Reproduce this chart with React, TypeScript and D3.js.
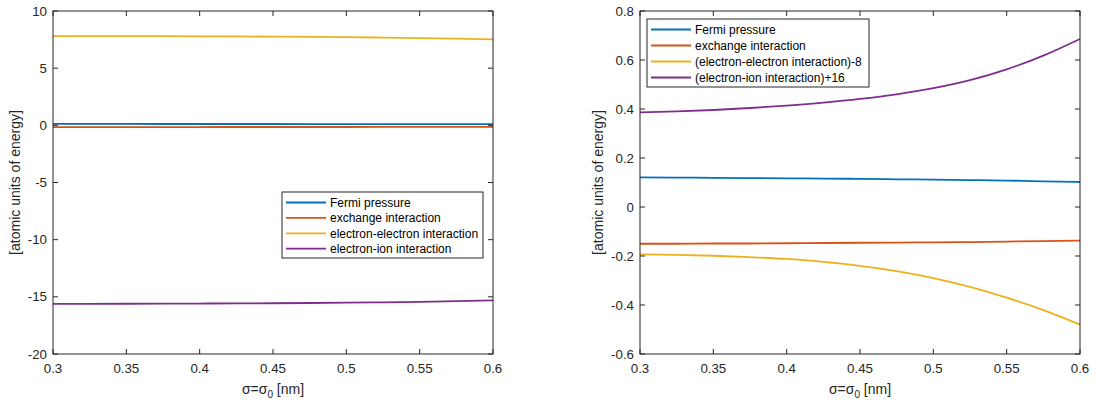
import React from "react";
import * as d3 from "d3";

const sigma = [0.3, 0.325, 0.35, 0.375, 0.4, 0.425, 0.45, 0.475, 0.5, 0.525, 0.55, 0.575, 0.6];
const fermi = [0.121, 0.120, 0.119, 0.118, 0.117, 0.116, 0.115, 0.113, 0.112, 0.110, 0.108, 0.105, 0.102];
const exchange = [-0.150, -0.150, -0.149, -0.149, -0.148, -0.147, -0.146, -0.145, -0.144, -0.143, -0.141, -0.139, -0.137];
const electronElectron = [7.807, 7.805, 7.801, 7.795, 7.788, 7.776, 7.760, 7.738, 7.710, 7.674, 7.630, 7.579, 7.520];
const electronIon = [-15.614, -15.610, -15.604, -15.596, -15.586, -15.574, -15.559, -15.540, -15.515, -15.482, -15.438, -15.382, -15.314];

const leftNames = ["Fermi pressure", "exchange interaction", "electron-electron interaction", "electron-ion interaction"];
const rightNames = ["Fermi pressure", "exchange interaction", "(electron-electron interaction)-8", "(electron-ion interaction)+16"];
const rightOffsets = [0, 0, -8, 16];
const colors = ["#0072BD", "#D95319", "#EDB120", "#7E2F8E"];

const xTicks = [0.3, 0.35, 0.4, 0.45, 0.5, 0.55, 0.6];
const leftYTicks = [10, 5, 0, -5, -10, -15, -20];
const rightYTicks = [0.8, 0.6, 0.4, 0.2, 0, -0.2, -0.4, -0.6];

const FONT = "'Liberation Sans', Arial, Helvetica, sans-serif";
const AX = "#262626";

type PanelProps = {
  x0: number; x1: number; y0: number; y1: number;
  yDomain: [number, number]; yTicks: number[];
  series: number[][]; names: string[];
  legend: { x: number; y: number; w: number; h: number; row: number };
  ylabelX: number;
};

function Panel(p: PanelProps) {
  const xs = d3.scaleLinear().domain([0.3, 0.6]).range([p.x0, p.x1]);
  const ys = d3.scaleLinear().domain(p.yDomain).range([p.y1, p.y0]);
  const line = d3.line<number>().x((_, i) => xs(sigma[i])).y((d) => ys(d)).curve(d3.curveMonotoneX);
  const tl = 5;
  const cx = (p.x0 + p.x1) / 2;
  const cy = (p.y0 + p.y1) / 2;
  return (
    <g>
      <rect x={p.x0} y={p.y0} width={p.x1 - p.x0} height={p.y1 - p.y0} fill="#fff" />
      {p.series.map((s, i) => (
        <path key={i} d={line(s) || ""} fill="none" stroke={colors[i]} strokeWidth={1.8} />
      ))}
      <rect x={p.x0} y={p.y0} width={p.x1 - p.x0} height={p.y1 - p.y0} fill="none" stroke={AX} strokeWidth={1} />
      {xTicks.map((t) => (
        <g key={"x" + t}>
          <line x1={xs(t)} x2={xs(t)} y1={p.y1} y2={p.y1 - tl} stroke={AX} />
          <line x1={xs(t)} x2={xs(t)} y1={p.y0} y2={p.y0 + tl} stroke={AX} />
          <text x={xs(t)} y={p.y1 + 19} textAnchor="middle" fontSize={13.3} fill={AX} fontFamily={FONT}>{String(t)}</text>
        </g>
      ))}
      {p.yTicks.map((t) => (
        <g key={"y" + t}>
          <line x1={p.x0} x2={p.x0 + tl} y1={ys(t)} y2={ys(t)} stroke={AX} />
          <line x1={p.x1} x2={p.x1 - tl} y1={ys(t)} y2={ys(t)} stroke={AX} />
          <text x={p.x0 - 6} y={ys(t)} dy="0.35em" textAnchor="end" fontSize={13.3} fill={AX} fontFamily={FONT}>{String(t)}</text>
        </g>
      ))}
      <text x={cx} y={p.y1 + 40} textAnchor="middle" fontSize={14} fill={AX} fontFamily={FONT}>
        σ=σ<tspan fontSize={10} dy={4}>0</tspan><tspan dy={-4}> [nm]</tspan>
      </text>
      <text transform={`translate(${p.ylabelX},${cy}) rotate(-90)`} textAnchor="middle" dy="0.35em" fontSize={14} fill={AX} fontFamily={FONT}>
        [atomic units of energy]
      </text>
      <g>
        <rect x={p.legend.x} y={p.legend.y} width={p.legend.w} height={p.legend.h} fill="#fff" stroke={AX} strokeWidth={1} />
        {p.names.map((n, i) => {
          const yy = p.legend.y + 10.5 + i * p.legend.row;
          return (
            <g key={n}>
              <line x1={p.legend.x + 4} x2={p.legend.x + 44} y1={yy} y2={yy} stroke={colors[i]} strokeWidth={1.8} />
              <text x={p.legend.x + 48} y={yy} dy="0.35em" fontSize={12} fill="#000" fontFamily={FONT}>{n}</text>
            </g>
          );
        })}
      </g>
    </g>
  );
}

export default function App() {
  const leftSeries = [fermi, exchange, electronElectron, electronIon];
  const rightSeries = leftSeries.map((s, i) => s.map((v) => v + rightOffsets[i]));
  return (
    <svg width={1102} height={403} style={{ position: "absolute", left: 0, top: 0, background: "#fff" }}>
      <rect width={1102} height={403} fill="#fff" />
      <Panel x0={53} x1={493} y0={11} y1={354} yDomain={[-20, 10]} yTicks={leftYTicks}
        series={leftSeries} names={leftNames}
        legend={{ x: 282, y: 192, w: 201, h: 66, row: 15.4 }} ylabelX={15} />
      <Panel x0={640} x1={1080} y0={11} y1={354} yDomain={[-0.6, 0.8]} yTicks={rightYTicks}
        series={rightSeries} names={rightNames}
        legend={{ x: 647, y: 19, w: 222, h: 68, row: 16 }} ylabelX={598} />
    </svg>
  );
}
